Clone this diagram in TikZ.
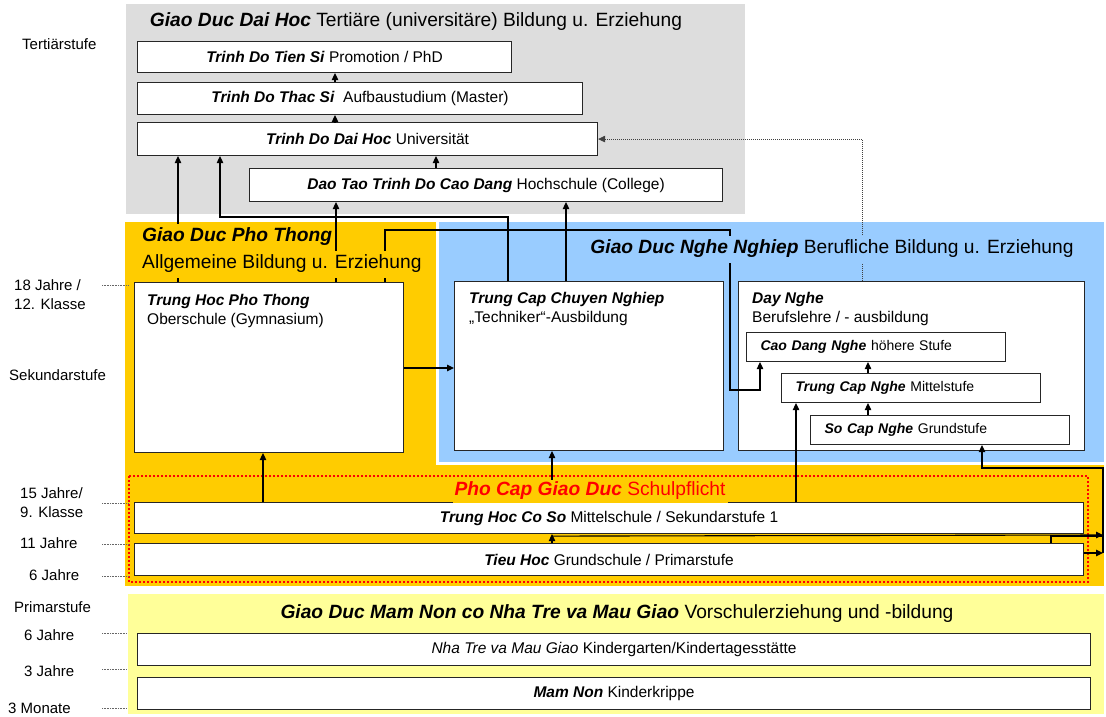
\documentclass[tikz,border=0pt]{standalone}
\usepackage{fontspec}
\setmainfont{Liberation Sans}
\usetikzlibrary{shapes,arrows.meta,positioning,calc}
\definecolor{grau}{HTML}{DDDDDD}
\definecolor{gelb}{HTML}{FFCC00}
\definecolor{blau}{HTML}{99CCFF}
\definecolor{hellgelb}{HTML}{FFFF99}
\newcommand{\bi}[1]{\textbf{\textit{#1}}}
\tikzstyle{stufe} = [draw=black!85, fill=white, line width=1.1pt, rectangle, inner sep=0pt, anchor=north west, font=\fontsize{15.5}{19}\selectfont]
\tikzstyle{teilstufe} = [stufe, font=\fontsize{14}{17}\selectfont, align=left, inner xsep=14pt, text width=231pt, minimum height=29pt]
\tikzstyle{kastentext} = [anchor=north west, align=left, inner sep=0pt, font=\fontsize{15.5}{19}\selectfont]
\tikzstyle{bereich} = [inner sep=0pt, font=\fontsize{19.2}{23}\selectfont]
\tikzstyle{alter} = [anchor=west, inner sep=0pt, font=\fontsize{15}{18}\selectfont]
\tikzstyle{pfeil} = [draw, line width=1.1pt, -{Triangle[length=7pt,width=6.5pt]}]
\tikzstyle{linie} = [draw, line width=1.1pt]
\tikzstyle{hilfslinie} = [draw=black!60, line width=0.6pt, dash pattern=on 0.8pt off 0.8pt]
\begin{document}
\begin{tikzpicture}[x=1pt,y=-1pt]
\useasboundingbox (0,0) rectangle (1106,717);

% Flaechen der Bildungsbereiche
\fill[grau] (126,4) rectangle (745,214);
\fill[gelb] (125,222) rectangle (436,465);
\fill[blau] (439,222) rectangle (1104,462);
\fill[gelb] (125,465) rectangle (1104,586);
\fill[hellgelb] (128,594) rectangle (1104,714);
\draw[red, line width=2pt, dash pattern=on 2pt off 2pt] (129,476) rectangle (1088,582);

% Tertiaerstufe
\node[bereich] (dhTitel) at (416,22) {\bi{Giao Duc Dai Hoc} Tertiäre (universitäre) Bildung u. Erziehung};
\node[stufe, minimum width=374pt, minimum height=31pt] (ts) at (137,41) {\bi{Trinh Do Tien Si} Promotion / PhD};
\node[stufe, minimum width=445pt, minimum height=32pt] (thac) at (137,82) {\bi{Trinh Do Thac Si}~ Aufbaustudium (Master)};
\node[stufe, minimum width=460pt, minimum height=33pt] (dh) at (137,122) {\bi{Trinh Do Dai Hoc} Universität};
\node[stufe, minimum width=473pt, minimum height=33pt] (cd) at (249,168) {\bi{Dao Tao Trinh Do Cao Dang} Hochschule (College)};

% Sekundarstufe
\node[stufe, minimum width=269pt, minimum height=170pt] (pt) at (134,282) {};
\node[stufe, minimum width=269pt, minimum height=169pt] (tcn) at (454,281) {};
\node[stufe, minimum width=346pt, minimum height=169pt] (dn) at (738,281) {};
\node[kastentext] (ptText) at ($(pt.north west)+(13,12)$) {\bi{Trung Hoc Pho Thong}\\Oberschule (Gymnasium)};
\node[kastentext] (tcnText) at ($(tcn.north west)+(15,11)$) {\bi{Trung Cap Chuyen Nghiep}\\„Techniker“-Ausbildung};
\node[kastentext] (dnText) at ($(dn.north west)+(14,11)$) {\bi{Day Nghe}\\Berufslehre / - ausbildung};
\node[teilstufe] (cdn) at (746,332) {\bi{Cao Dang Nghe} höhere Stufe};
\node[teilstufe] (tcnghe) at (781,373) {\bi{Trung Cap Nghe} Mittelstufe};
\node[teilstufe] (scn) at (810,415) {\bi{So Cap Nghe} Grundstufe};

% Pflichtschule
\node[stufe, minimum width=949pt, minimum height=31pt] (cs) at (134,502) {\bi{Trung Hoc Co So} Mittelschule / Sekundarstufe 1};
\node[stufe, minimum width=949pt, minimum height=32pt] (th) at (134,543) {\bi{Tieu Hoc} Grundschule / Primarstufe};
\coordinate (rail) at (1103,553);

% Vorschule
\node[bereich] (mnTitel) at (617,614) {\bi{Giao Duc Mam Non co Nha Tre va Mau Giao} Vorschulerziehung und -bildung};
\node[stufe, minimum width=953pt, minimum height=32pt] (mg) at (137,633) {\textit{Nha Tre va Mau Giao} Kindergarten/Kindertagesstätte};
\node[stufe, minimum width=953pt, minimum height=32pt] (mn) at (137,677) {\bi{Mam Non} Kinderkrippe};

% Uebergaenge
\draw[pfeil] ($(thac.north west)+(198,0)$) -- ($(ts.south west)+(198,0)$);
\draw[pfeil] ($(dh.north west)+(198,0)$) -- ($(thac.south west)+(198,0)$);
\draw[pfeil] ($(cd.north west)+(187,0)$) -- ($(dh.south west)+(299,0)$);
\draw[pfeil] ($(pt.north west)+(44,0)$) -- ($(dh.south west)+(41,0)$);
\draw[pfeil] ($(tcn.north west)+(54,0)$) -- ++(0,-64) -| ($(dh.south west)+(83,0)$);
\draw[pfeil] ($(pt.north west)+(202,0)$) -- ($(cd.south west)+(87,0)$);
\draw[pfeil] ($(tcn.north west)+(112,0)$) -- ($(cd.south west)+(317,0)$);
\draw[pfeil] ($(pt.north west)+(251,0)$) -- ++(0,-52) -- ++(345,0) -- ++(0,160) -| ($(cdn.south west)+(14,0)$);
\draw[pfeil] ($(pt.north east)+(0,86)$) -- ($(tcn.north west)+(0,87)$);
\draw[pfeil] ($(scn.north west)+(58,0)$) -- ($(tcnghe.south west)+(87,0)$);
\draw[pfeil] ($(tcnghe.north west)+(87,0)$) -- ($(cdn.south west)+(122,0)$);
\draw[pfeil] ($(cs.north west)+(129,0)$) -- ($(pt.south west)+(129,0)$);
\draw[pfeil] ($(cs.north west)+(418,0)$) -- ($(tcn.south west)+(98,0)$);
\draw[pfeil] ($(cs.north west)+(662,0)$) -- ($(tcnghe.south west)+(15,0)$);
\draw[pfeil] ($(th.north west)+(418,0)$) -- ($(cs.south west)+(418,0)$);
\draw[pfeil] (rail) -- ++(0,-85) -| ($(scn.south west)+(172,0)$);
\draw[pfeil] ($(th.north east)+(0,10)$) -- (rail);
\draw[linie] ($(th.north west)+(917,0)$) |- ($(rail)+(0,-17)$);
\draw[pfeil] ($(cs.south west)+(418,2)$) -- ($(rail)+(0,-18)$);
\draw[pfeil, line width=0.7pt, dash pattern=on 1pt off 1pt, draw=black!75] ($(dn.north west)+(124,0)$) |- (dh.east);

% Ueberschriften ueber den Linien
\node[bereich, anchor=west, fill=gelb, minimum height=27pt, inner xsep=1pt] (ptTitel) at (141,237) {\bi{Giao Duc Pho Thong}};
\node[bereich, anchor=west, fill=gelb, minimum height=27pt, inner xsep=1pt] (ptUnter) at (141,264) {Allgemeine Bildung u. Erziehung};
\node[bereich, fill=blau, minimum height=27pt, inner xsep=1pt] (nnTitel) at (832,249) {\bi{Giao Duc Nghe Nghiep} Berufliche Bildung u. Erziehung};
\node[bereich, text=red, fill=gelb, minimum height=23pt, inner xsep=2pt] (pcTitel) at (590,491) {\bi{Pho Cap Giao Duc} Schulpflicht};

% Altersangaben
\node[alter] (lTert) at (22,44) {Tertiärstufe};
\node[alter] (l18) at (14,285) {18 Jahre /};
\node[alter] (l12) at (14,304) {12. Klasse};
\node[alter] (lSek) at (9,375) {Sekundarstufe};
\node[alter] (l15) at (20,493) {15 Jahre/};
\node[alter] (l9) at (20,512) {9. Klasse};
\node[alter] (l11) at (20,543) {11 Jahre};
\node[alter] (l6a) at (29,575) {6 Jahre};
\node[alter] (lPrim) at (14,607) {Primarstufe};
\node[alter] (l6b) at (24,635) {6 Jahre};
\node[alter] (l3) at (24,671) {3 Jahre};
\node[alter] (l3m) at (8,708) {3 Monate};
\foreach \y/\x in {285/129, 503/129, 544/129, 576/129, 633/127, 669/127, 708/127}
  \draw[hilfslinie] (102,\y) -- (\x,\y);
\end{tikzpicture}
\end{document}
